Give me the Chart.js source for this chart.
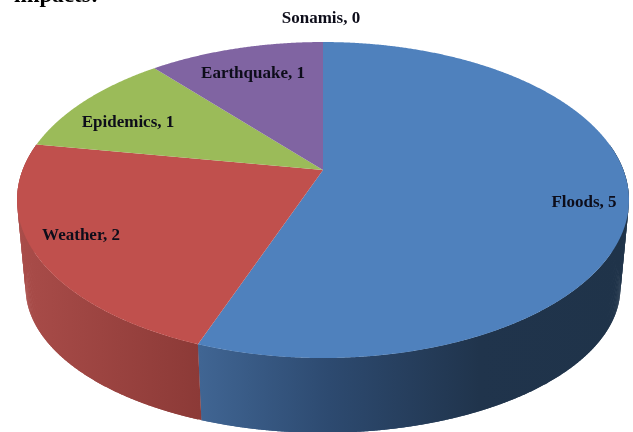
<!DOCTYPE html>
<html lang="en">
<head>
    <meta charset="UTF-8">
    <title>Disaster types</title>
    <script src="https://cdn.jsdelivr.net/npm/chart.js"></script>
    <style>
        html, body {
            margin: 0;
            padding: 0;
            background-color: #fff;
            overflow: hidden;
        }

        canvas {
            display: block;
        }
    </style>
</head>
<body>
    <canvas id="pie" width="633" height="432"></canvas>

    <script>
        const categories = ['Floods', 'Weather', 'Epidemics', 'Earthquake', 'Sonamis'];
        const counts = [5, 2, 1, 1, 0];
        const topColors = ['#4f81bd', '#c0504d', '#9bbb59', '#8064a2', '#4bacc6'];

        // Where each "name, value" label sits, centred on the point
        const labelAnchors = [[584, 203], [81, 236], [128, 123], [253, 74], [321, 19]];

        // Perspective of the tilted disc. tilt makes the front edge look closer.
        const tilt = 0.19;
        const topFace = { x: 323, y: 170, rx: 300.4, ry: 152.3 };
        const bottomFace = { x: 323, y: 260, rx: 292, ry: 140 };

        // The side wall is only visible between these angles (radians)
        const wallFrom = -10 * Math.PI / 180;
        const wallTo = 190 * Math.PI / 180;
        const wallStep = 0.01;

        function project(face, angle, r) {
            const u = r * Math.cos(angle);
            const v = r * Math.sin(angle);
            const w = 1 - tilt * v;
            return [face.x + face.rx * u / w, face.y + face.ry * v / w];
        }

        function traceEdge(ctx, face, from, to) {
            const steps = Math.max(2, Math.ceil(Math.abs(to - from) / 0.005));
            for (let i = 0; i <= steps; i++) {
                const p = project(face, from + (to - from) * i / steps, 1);
                ctx.lineTo(p[0], p[1]);
            }
        }

        function wallGradient(ctx, index) {
            if (index === 0) {
                const g = ctx.createLinearGradient(200, 0, 630, 0);
                g.addColorStop(0, '#406593');
                g.addColorStop(0.3, '#2d4a70');
                g.addColorStop(0.65, '#20344c');
                g.addColorStop(1, '#1f3349');
                return g;
            }
            const g = ctx.createLinearGradient(20, 0, 200, 0);
            g.addColorStop(0, '#a94c49');
            g.addColorStop(1, '#8c3a37');
            return g;
        }

        // The wall is swept in short overlapping pieces so its silhouette
        // follows the line joining the two faces
        function drawWall(ctx, from, to, fill) {
            ctx.fillStyle = fill;
            for (let a = from; a < to; a += wallStep) {
                const b = Math.min(a + wallStep * 2, to);
                ctx.beginPath();
                traceEdge(ctx, topFace, a, b);
                traceEdge(ctx, bottomFace, b, a);
                ctx.closePath();
                ctx.fill();
            }
        }

        const tiltedPie = {
            id: 'tiltedPie',
            // Draws the arcs computed by the pie controller through the projection
            beforeDatasetsDraw(chart) {
                const ctx = chart.ctx;
                const arcs = chart.getDatasetMeta(0).data;

                arcs.forEach((arc, i) => {
                    const from = Math.max(arc.startAngle, wallFrom);
                    const to = Math.min(arc.endAngle, wallTo);
                    if (to > from) drawWall(ctx, from, to, wallGradient(ctx, i));
                });

                arcs.forEach((arc) => {
                    if (arc.endAngle <= arc.startAngle) return;
                    const centre = project(topFace, 0, 0);
                    ctx.beginPath();
                    ctx.moveTo(centre[0], centre[1]);
                    traceEdge(ctx, topFace, arc.startAngle, arc.endAngle);
                    ctx.closePath();
                    ctx.fillStyle = arc.options.backgroundColor;
                    ctx.fill();
                });
                return false;
            },
            afterDraw(chart) {
                const ctx = chart.ctx;
                ctx.save();
                ctx.font = 'bold 17px "Liberation Serif"';
                ctx.fillStyle = '#0d0d1a';
                ctx.textAlign = 'center';
                ctx.textBaseline = 'middle';
                categories.forEach((name, i) => {
                    ctx.fillText(name + ', ' + counts[i], labelAnchors[i][0], labelAnchors[i][1]);
                });
                // Tail of the paragraph running in above the chart
                ctx.font = 'bold 23px "Liberation Serif"';
                ctx.fillStyle = '#000';
                ctx.textAlign = 'left';
                ctx.textBaseline = 'alphabetic';
                ctx.fillText('impacts:', 14, 2);
                ctx.restore();
            }
        };

        new Chart(document.getElementById('pie').getContext('2d'), {
            type: 'pie',
            data: {
                labels: categories,
                datasets: [{
                    data: counts,
                    backgroundColor: topColors,
                    borderWidth: 0
                }]
            },
            options: {
                responsive: false,
                animation: false,
                plugins: {
                    legend: { display: false },
                    tooltip: { enabled: false }
                }
            },
            plugins: [tiltedPie]
        });
    </script>
</body>
</html>
